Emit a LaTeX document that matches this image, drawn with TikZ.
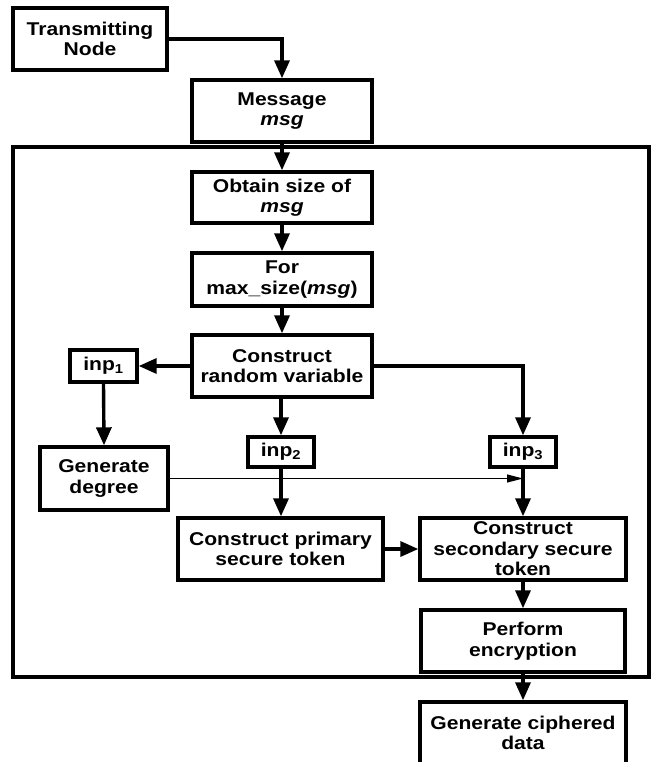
\documentclass[tikz,border=0pt]{standalone}
\usepackage{fontspec}
\setmainfont{Liberation Sans}[FakeStretch=1.14]
\usetikzlibrary{arrows.meta,calc}
\begin{document}
\begin{tikzpicture}[x=1pt,y=-1pt,
  box/.style={draw, line width=3.4pt, align=center, inner sep=0pt,
    font=\bfseries\fontsize{18.5}{20.5}\selectfont},
  ar/.style={line width=3.4pt, -{Triangle[length=18pt,width=15pt]}},
  thinar/.style={line width=1.1pt, -{Triangle[length=16pt,width=8pt]}},
  frame/.style={draw, line width=3.4pt, inner sep=0pt}]
\clip (0,0) rectangle (651,762);
\node[frame, minimum width=636pt, minimum height=530pt] (cont) at (331,412) {};
\node[box, minimum width=154pt, minimum height=62pt] (tn) at (90,39) {Transmitting\\Node};
\node[box, minimum width=180pt, minimum height=62pt] (msg) at (282,111) {Message\\\textit{msg}};
\node[box, minimum width=180pt, minimum height=51pt] (obt) at (282,197.5) {Obtain size of\\\textit{msg}};
\node[box, minimum width=180pt, minimum height=53pt] (for) at (282,279.5) {For\\max\_size(\textit{msg})};
\node[box, minimum width=180pt, minimum height=62pt] (crv) at (282,366) {Construct\\random variable};
\node[box, minimum width=67pt, minimum height=32pt] (inpa) at (103.5,366) {inp\textsubscript{1}};
\node[box, minimum width=128pt, minimum height=63pt] (gd) at (104,478.5) {Generate\\degree};
\node[box, minimum width=66pt, minimum height=30pt] (inpb) at (281,452) {inp\textsubscript{2}};
\node[box, minimum width=66pt, minimum height=30pt] (inpc) at (523,452) {inp\textsubscript{3}};
\node[box, minimum width=205pt, minimum height=62pt] (cpst) at (280.5,549) {Construct primary\\secure token};
\node[box, minimum width=206pt, minimum height=62pt] (csst) at (523,549) {Construct\\secondary secure\\token};
\node[box, minimum width=204pt, minimum height=62pt] (pe) at (523,641) {Perform\\encryption};
\node[box, minimum width=206pt, minimum height=62pt] (gcd) at (523,733) {Generate ciphered\\data};
\coordinate (join) at (gd.east -| inpc.south);
\draw[ar] (tn.east) -| (msg.north);
\draw[ar] (msg.south) -- (obt.north);
\draw[ar] (obt.south) -- (for.north);
\draw[ar] (for.south) -- (crv.north);
\draw[ar] (crv.west) -- (inpa.east);
\draw[ar] (inpa.south) -- (gd.north);
\draw[ar] (crv.south -| inpb.north) -- (inpb.north);
\draw[ar] (crv.east) -| (inpc.north);
\draw[thinar] (gd.east) -- (join);
\draw[ar] (inpb.south) -- (inpb.south |- cpst.north);
\draw[ar] (inpc.south) -- (csst.north);
\draw[ar] (cpst.east) -- (csst.west);
\draw[ar] (csst.south) -- (pe.north);
\draw[ar] (pe.south) -- (gcd.north);
\end{tikzpicture}
\end{document}
